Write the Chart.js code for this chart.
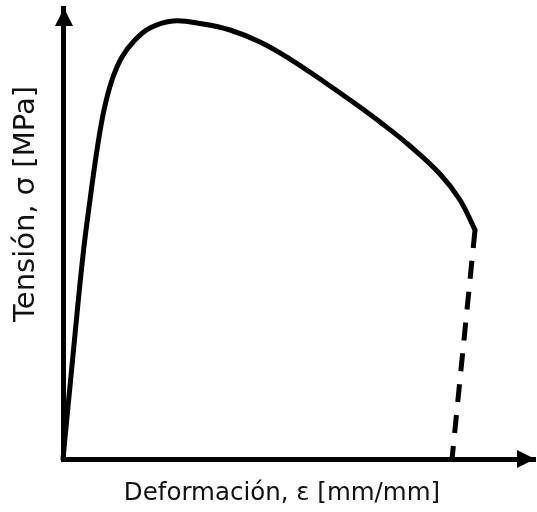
<!DOCTYPE html>
<html>
<head>
<meta charset="utf-8">
<script src="https://cdn.jsdelivr.net/npm/chart.js@4.4.1/dist/chart.umd.min.js"></script>
<style>
  body { margin: 0; background: #fff; }
  #wrap { width: 537px; height: 512px; position: relative; }
</style>
</head>
<body>
<div id="wrap"><canvas id="grafico"></canvas></div>
<script>
// curva tensión-deformación (unidades arbitrarias 0..100)
const deformacion = [0, 2.12, 4.24, 5.72, 7.2, 8.69, 10.38, 12.5, 15.25, 18.43, 23.31, 29.66, 35.38, 41.74, 48.09, 54.45, 60.81, 67.16, 73.52, 79.87, 84.11, 87.29];
const tension = [0, 23.06, 45.23, 57.43, 68.51, 77.38, 84.04, 89.14, 92.9, 95.57, 97.12, 96.45, 95.12, 92.46, 88.69, 84.26, 79.6, 74.72, 69.4, 63.19, 57.43, 50.78];

// tramo de rotura (discontinuo)
const deformacionRotura = [87.29, 82.42];
const tensionRotura = [50.78, 0];

const tituloX = "Deformación, ε [mm/mm]";
const tituloY = "Tensión, σ [MPa]";

const toPoints = (xs, ys) => xs.map((x, i) => ({ x: x, y: ys[i] }));

// flechas de los ejes y títulos
const ejesPlugin = {
  id: "ejes",
  afterDraw(chart) {
    const { ctx, chartArea } = chart;
    ctx.save();
    ctx.fillStyle = "#000";
    // flecha eje Y
    ctx.beginPath();
    ctx.moveTo(chartArea.left + 1, chartArea.top);
    ctx.lineTo(chartArea.left - 8, chartArea.top + 18);
    ctx.lineTo(chartArea.left + 10, chartArea.top + 18);
    ctx.closePath();
    ctx.fill();
    // flecha eje X
    ctx.beginPath();
    ctx.moveTo(chartArea.right, chartArea.bottom);
    ctx.lineTo(chartArea.right - 18, chartArea.bottom - 9);
    ctx.lineTo(chartArea.right - 18, chartArea.bottom + 9);
    ctx.closePath();
    ctx.fill();

    ctx.fillStyle = "#111";
    ctx.textAlign = "center";
    ctx.textBaseline = "middle";
    ctx.font = "24.5px 'DejaVu Sans'";
    ctx.fillText(tituloX, 282, 494);

    ctx.translate(26, 204);
    ctx.rotate(-Math.PI / 2);
    ctx.font = "29px 'DejaVu Sans'";
    ctx.fillText(tituloY, 0, 0);
    ctx.restore();
  },
};

new Chart(document.getElementById("grafico"), {
  type: "scatter",
  data: {
    datasets: [
      {
        data: toPoints(deformacion, tension),
        showLine: true,
        borderColor: "#000",
        borderWidth: 5,
        pointRadius: 0,
        tension: 0.4,
        borderCapStyle: "round",
        borderJoinStyle: "round",
        clip: false,
      },
      {
        data: toPoints(deformacionRotura, tensionRotura),
        showLine: true,
        borderColor: "#000",
        borderWidth: 5,
        borderDash: [18, 13],
        pointRadius: 0,
        clip: false,
      },
    ],
  },
  options: {
    responsive: true,
    maintainAspectRatio: false,
    animation: false,
    layout: { padding: { left: 63, top: 8, right: 2, bottom: 53 } },
    plugins: {
      legend: { display: false },
      tooltip: { enabled: false },
    },
    scales: {
      x: {
        type: "linear",
        min: 0,
        max: 100,
        grid: { display: false, drawTicks: false },
        ticks: { display: false },
        border: { display: true, color: "#000", width: 5 },
        afterFit: (scale) => { scale.height = 0; },
      },
      y: {
        type: "linear",
        min: 0,
        max: 100,
        grid: { display: false, drawTicks: false },
        ticks: { display: false },
        border: { display: true, color: "#000", width: 5 },
        afterFit: (scale) => { scale.width = 0; },
      },
    },
  },
  plugins: [ejesPlugin],
});
</script>
</body>
</html>
